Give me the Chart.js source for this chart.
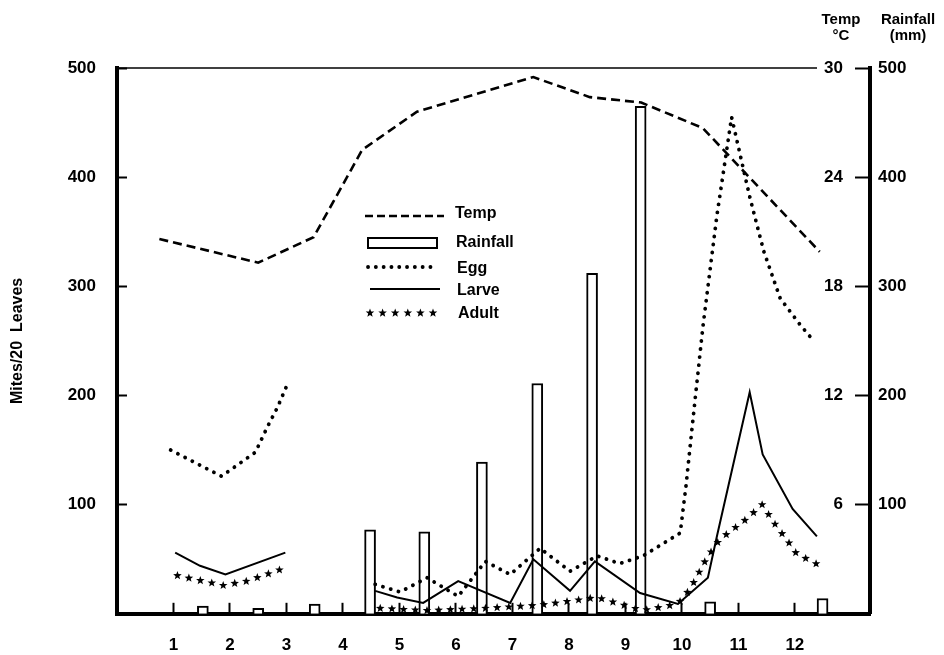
<!DOCTYPE html>
<html>
<head>
<meta charset="utf-8">
<script src="https://cdn.jsdelivr.net/npm/chart.js@4.4.1/dist/chart.umd.min.js"></script>
<style>
  html, body { margin: 0; padding: 0; background: #fff; }
  #wrap { position: relative; width: 944px; height: 655px; overflow: hidden;
          font-family: 'Liberation Sans', Arial, sans-serif; font-weight: bold; color: #000; }
  #chart { position: absolute; left: 0; top: 0; }
  .unit { position: absolute; width: 80px; text-align: center; font-size: 15px; line-height: 16px; }
  .lbl { position: absolute; font-size: 16px; line-height: 18px; white-space: nowrap; }
  svg.sample { position: absolute; overflow: visible; }
</style>
</head>
<body>
<div id="wrap">
  <canvas id="chart" width="944" height="655"></canvas>
  <div class="unit" style="left:801px; top:11px;">Temp<br>°C</div>
  <div class="unit" style="left:868px; top:11px;">Rainfall<br>(mm)</div>

  <!-- 凡例 -->
  <svg class="sample" style="left:364px; top:209px;" width="82" height="14">
    <line x1="1" y1="7" x2="80" y2="7" stroke="#000" stroke-width="2.6" stroke-dasharray="8 4"/>
  </svg>
  <div class="lbl" style="left:455px; top:204px;">Temp</div>

  <svg class="sample" style="left:366px; top:236px;" width="74" height="14">
    <rect x="2" y="2" width="69" height="10" fill="#fff" stroke="#000" stroke-width="2"/>
  </svg>
  <div class="lbl" style="left:456px; top:233px;">Rainfall</div>

  <svg class="sample" style="left:364px; top:261px;" width="80" height="12">
    <line x1="4" y1="6" x2="74" y2="6" stroke="#000" stroke-width="3.8" stroke-linecap="round" stroke-dasharray="0.1 7.7"/>
  </svg>
  <div class="lbl" style="left:457px; top:259px;">Egg</div>

  <svg class="sample" style="left:368px; top:283px;" width="76" height="12">
    <line x1="2" y1="6" x2="72" y2="6" stroke="#000" stroke-width="2"/>
  </svg>
  <div class="lbl" style="left:457px; top:281px;">Larve</div>

  <svg class="sample" id="adultSample" style="left:364px; top:306px;" width="76" height="14"></svg>
  <div class="lbl" style="left:458px; top:304px;">Adult</div>
</div>

<script>
// ===== データ =====
const monthTicks = [1, 2, 3, 4, 5, 6, 7, 8, 9, 10, 11, 12];
const monthLabels = ['1', '2', '3', '4', '5', '6', '7', '8', '9', '10', '11', '12'];
const mitesTicks = [100, 200, 300, 400, 500];
const tempTicks = [6, 12, 18, 24, 30];
const rainTicks = [100, 200, 300, 400, 500];

// 気温（℃）
const tempMonths = [0.75, 2.5, 3.48, 4.34, 5.31, 7.37, 8.37, 9.28, 10.37, 12.44];
const tempValues = [20.6, 19.3, 20.7, 25.5, 27.6, 29.5, 28.4, 28.1, 26.7, 19.9];

// 降水量（mm）
const rainMonths = [1.52, 2.5, 3.5, 4.48, 5.44, 6.46, 7.44, 8.41, 9.27, 10.5, 12.49];
const rainValues = [7, 5, 9, 77, 75, 139, 211, 312, 465, 11, 14];

// ダニ数 / 20葉（null で線を切る）
const eggMonths = [0.95, 1.85, 2.45, 2.66, 2.84, 3.03, 4.0,
  4.57, 5.01, 5.49, 6.04, 6.52, 6.96, 7.49, 8.02, 8.5, 8.9, 9.31, 9.97,
  10.07, 10.2, 10.37, 10.62, 10.88, 11.21, 11.45, 11.74, 12.09, 12.35];
const eggValues = [150, 126, 148, 171, 189, 212, null,
  27, 20, 33, 16, 48, 36, 60, 39, 53, 46, 53, 74,
  116, 180, 262, 365, 455, 380, 332, 289, 265, 249];

const larveMonths = [1.03, 1.47, 1.92, 2.98, 4.0,
  4.57, 4.96, 5.42, 6.04, 6.96, 7.37, 8.02, 8.46, 9.26, 9.93,
  10.46, 10.62, 11.2, 11.43, 11.96, 12.39];
const larveValues = [56, 44, 36, 56, null,
  21, 15, 10, 30, 10, 50, 21, 48, 19, 9,
  33, 71, 203, 146, 96, 71];

const adultMonths = [1.07, 1.88, 2.31, 2.92, 4.0,
  4.66, 5.5, 6.5, 7.5, 8.5, 9.3, 9.93,
  10.15, 10.44, 10.67, 11.15, 11.42, 11.65, 11.91, 12.03, 12.56];
const adultValues = [35, 26, 30, 41, null,
  5, 3, 5, 8, 15, 3, 9,
  23, 51, 68, 87, 100, 82, 64, 55, 41];

const pairs = (xs, ys) => xs.map((x, i) => ({ x: x, y: ys[i] }));

// ===== 星マーカー =====
function starPath(ctx, x, y, ro, ri) {
  ctx.beginPath();
  for (let k = 0; k < 10; k++) {
    const a = -Math.PI / 2 + k * Math.PI / 5;
    const r = k % 2 ? ri : ro;
    ctx.lineTo(x + r * Math.cos(a), y + r * Math.sin(a));
  }
  ctx.closePath();
  ctx.fill();
}

// 成虫の線を星の列で描く
const starLinePlugin = {
  id: 'starLine',
  afterDatasetsDraw(chart) {
    const ctx = chart.ctx;
    chart.data.datasets.forEach((ds, i) => {
      if (!ds.starLine) return;
      const pts = chart.getDatasetMeta(i).data;
      ctx.save();
      ctx.fillStyle = '#000';
      let run = [];
      const flush = () => {
        let next = 0, walked = 0;
        for (let k = 1; k < run.length; k++) {
          const a = run[k - 1], b = run[k];
          const len = Math.hypot(b.x - a.x, b.y - a.y);
          while (next <= walked + len) {
            const t = len ? (next - walked) / len : 0;
            starPath(ctx, a.x + (b.x - a.x) * t, a.y + (b.y - a.y) * t, 4.5, 1.9);
            next += ds.starGap;
          }
          walked += len;
        }
        run = [];
      };
      pts.forEach(p => { if (p.skip) flush(); else run.push(p); });
      flush();
      ctx.restore();
    });
  }
};

// 上辺の細い枠線（右端は目盛ラベルの手前で止める）
const topRulePlugin = {
  id: 'topRule',
  beforeDatasetsDraw(chart) {
    const { ctx, chartArea: a } = chart;
    ctx.save();
    ctx.strokeStyle = '#000';
    ctx.lineWidth = 1.5;
    ctx.beginPath();
    ctx.moveTo(a.left, a.top);
    ctx.lineTo(a.right - 53, a.top);
    ctx.stroke();
    ctx.restore();
  }
};

// 凡例の星
(function () {
  const svg = document.getElementById('adultSample');
  let html = '';
  for (let s = 0; s < 6; s++) {
    const cx = 6 + s * 12.6, cy = 7;
    let pts = [];
    for (let k = 0; k < 10; k++) {
      const a = -Math.PI / 2 + k * Math.PI / 5;
      const r = k % 2 ? 1.9 : 4.5;
      pts.push((cx + r * Math.cos(a)).toFixed(2) + ',' + (cy + r * Math.sin(a)).toFixed(2));
    }
    html += '<polygon points="' + pts.join(' ') + '" fill="#000"/>';
  }
  svg.innerHTML = html;
})();

Chart.defaults.font.family = "'Liberation Sans', Arial, sans-serif";
Chart.defaults.color = '#000';

const tickFont = { size: 17, weight: 'bold' };

new Chart(document.getElementById('chart'), {
  type: 'line',
  data: {
    datasets: [
      {
        label: 'Temp',
        data: pairs(tempMonths, tempValues),
        yAxisID: 'y1',
        borderColor: '#000',
        borderWidth: 2.6,
        borderDash: [9, 5],
        pointRadius: 0,
        fill: false,
        order: 1
      },
      {
        label: 'Egg',
        data: pairs(eggMonths, eggValues),
        yAxisID: 'y',
        borderColor: '#000',
        borderWidth: 3.8,
        borderDash: [0.1, 8],
        borderCapStyle: 'round',
        pointRadius: 0,
        spanGaps: false,
        order: 1
      },
      {
        label: 'Larve',
        data: pairs(larveMonths, larveValues),
        yAxisID: 'y',
        borderColor: '#000',
        borderWidth: 2,
        pointRadius: 0,
        spanGaps: false,
        order: 1
      },
      {
        label: 'Adult',
        data: pairs(adultMonths, adultValues),
        yAxisID: 'y',
        showLine: false,
        borderWidth: 0,
        pointRadius: 0,
        starLine: true,
        starGap: 11.7,
        order: 1
      },
      {
        type: 'bar',
        label: 'Rainfall',
        data: pairs(rainMonths, rainValues),
        yAxisID: 'y2',
        backgroundColor: '#fff',
        borderColor: '#000',
        borderWidth: 2,
        barThickness: 11,
        order: 5
      }
    ]
  },
  options: {
    responsive: false,
    animation: false,
    layout: { padding: { top: 68, left: 0, right: 0, bottom: 0 } },
    plugins: {
      legend: { display: false },
      tooltip: { enabled: false }
    },
    elements: { line: { tension: 0 } },
    scales: {
      x: {
        type: 'linear',
        min: 0, max: 13.33,
        offset: false,
        afterBuildTicks: s => { s.ticks = monthTicks.map(v => ({ value: v })); },
        afterFit: s => { s.height = 37; },
        grid: { offset: false, drawOnChartArea: false, tickLength: -11, tickWidth: 2, tickColor: '#000' },
        border: { display: true, width: 4, color: '#000' },
        ticks: {
          padding: 32, autoSkip: false, maxRotation: 0, font: tickFont,
          callback: v => monthLabels[monthTicks.indexOf(v)]
        }
      },
      y: {
        position: 'left',
        min: 0, max: 500,
        afterBuildTicks: s => { s.ticks = mitesTicks.map(v => ({ value: v })); },
        afterFit: s => { s.width = 117; },
        grid: { drawOnChartArea: false, tickLength: -10, tickWidth: 2, tickColor: '#000' },
        border: { display: true, width: 4, color: '#000' },
        ticks: { padding: 31, font: tickFont },
        title: {
          display: true,
          text: 'Mites/20  Leaves',
          font: { size: 16, weight: 'bold' },
          padding: { top: 8, bottom: 0 }
        }
      },
      y1: {
        position: 'right',
        min: 0, max: 30,
        afterBuildTicks: s => { s.ticks = tempTicks.map(v => ({ value: v })); },
        afterFit: s => { s.width = 0; },
        grid: { drawOnChartArea: false, drawTicks: false },
        border: { display: false },
        ticks: { mirror: true, padding: -27, font: tickFont }
      },
      y2: {
        position: 'right',
        min: 0, max: 500,
        afterBuildTicks: s => { s.ticks = rainTicks.map(v => ({ value: v })); },
        afterFit: s => { s.width = 74; },
        grid: { drawOnChartArea: false, tickLength: -15, tickWidth: 2, tickColor: '#000' },
        border: { display: true, width: 4, color: '#000' },
        ticks: { padding: 23, font: tickFont }
      }
    }
  },
  plugins: [starLinePlugin, topRulePlugin]
});
</script>
</body>
</html>
